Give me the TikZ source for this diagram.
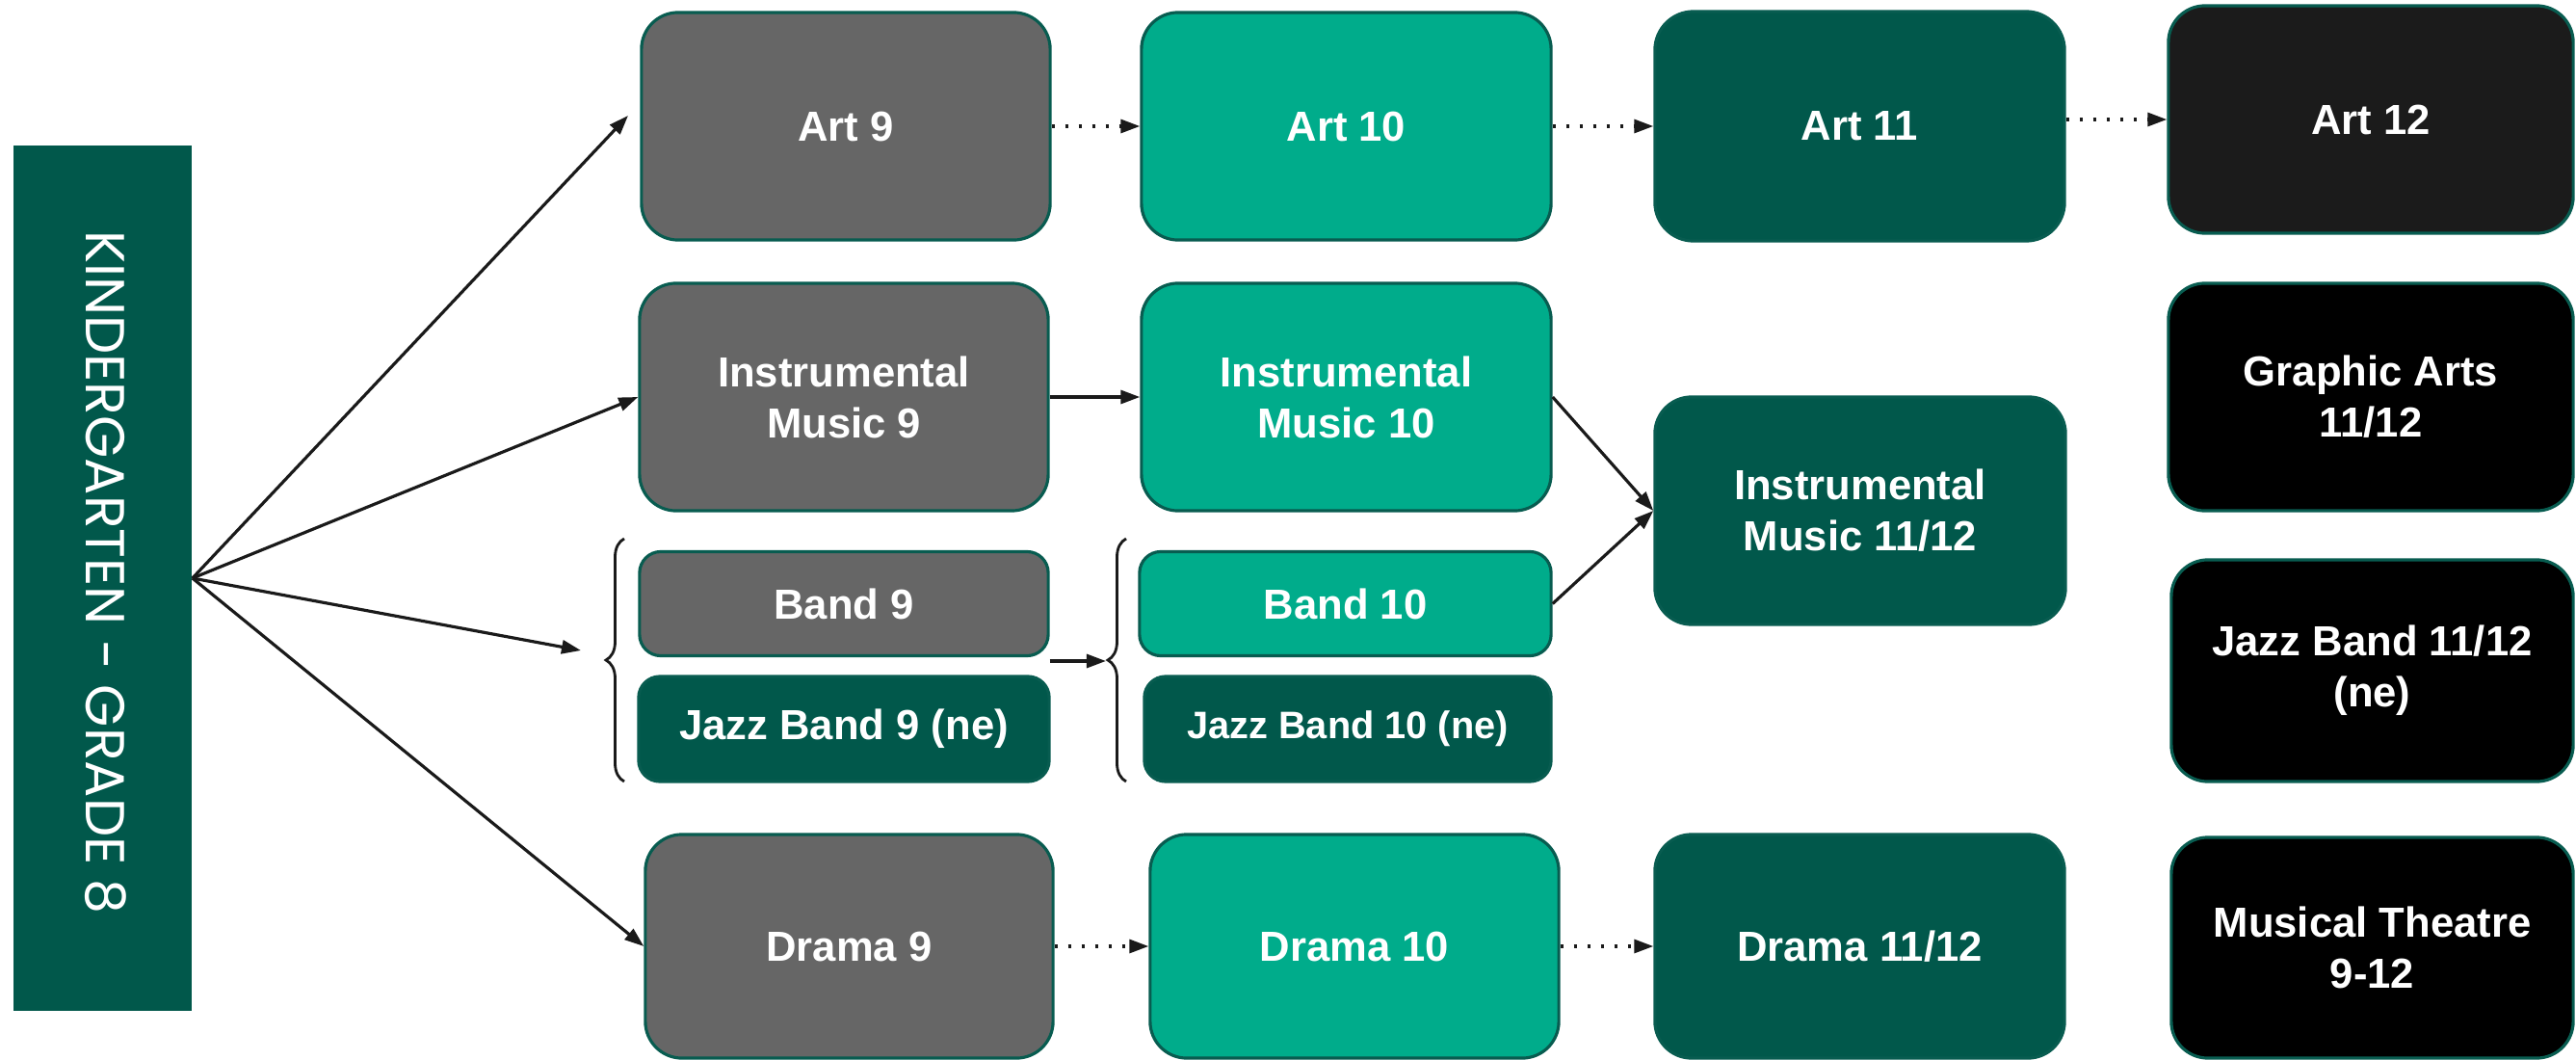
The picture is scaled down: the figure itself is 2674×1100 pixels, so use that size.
\documentclass[tikz,border=0pt]{standalone}
\usepackage{fontspec}
\setmainfont{Liberation Sans}
\newfontfamily\barfont{Poppins}
\usetikzlibrary{arrows.meta,decorations.pathreplacing}
\definecolor{gnine}{RGB}{102,102,102}
\definecolor{gten}{RGB}{0,172,139}
\definecolor{gdark}{RGB}{1,88,75}
\definecolor{gbord}{RGB}{8,92,80}
\definecolor{gartw}{RGB}{27,27,27}
\definecolor{garrow}{RGB}{26,26,26}
\begin{document}
\begin{tikzpicture}[x=0.01cm,y=-0.01cm,
  box/.style={draw=gbord,line width=0.9pt,align=center,text=white,inner sep=0pt,
    font=\fontsize{12.4}{15.1}\selectfont\bfseries,
    minimum width=4.24cm,minimum height=2.36cm,rounded corners=0.38cm},
  smallbox/.style={minimum height=1.08cm,rounded corners=0.22cm},
  cnine/.style={box,fill=gnine},
  cten/.style={box,fill=gten},
  celeven/.style={box,fill=gdark},
  ctwelve/.style={box,fill=black},
  arr/.style={draw=garrow,line width=0.9pt,-{Triangle[length=0.2cm,width=0.14cm]}},
  dotarr/.style={arr,dash pattern=on 0.03cm off 0.11cm},
  bracestyle/.style={draw=garrow,line width=0.8pt,decorate,decoration={brace,amplitude=0.19cm}}
]
\useasboundingbox (0,0) rectangle (2674,1100);
\fill[white] (0,0) rectangle (2674,1100);

% left bar
\node[fill=gdark,minimum width=1.85cm,minimum height=8.98cm,inner sep=0pt] (kg) at (106.5,600) {};
\node[rotate=-90,text=white,inner sep=0pt] (kgt) at (110,594) {\resizebox{7.09cm}{!}{\barfont KINDERGARTEN - GRADE 8}};

% boxes
\node[cnine] (a9) at (878,131) {Art 9};
\node[cten,minimum width=4.25cm] (a10) at (1397.5,131) {Art 10};
\node[celeven,minimum width=4.25cm,minimum height=2.38cm,rounded corners=0.4cm] (a11) at (1930.5,131) {Art 11};
\node[ctwelve,fill=gartw,minimum width=4.2cm] (a12) at (2461,124) {Art 12};

\node[cnine] (im9) at (876,412) {Instrumental\\Music 9};
\node[cten,minimum width=4.25cm] (im10) at (1397.5,412) {Instrumental\\Music 10};
\node[celeven,minimum width=4.26cm] (im1112) at (1931,530) {Instrumental\\Music 11/12};
\node[ctwelve,minimum width=4.2cm] (ga) at (2461,412) {Graphic Arts\\11/12};

\node[cnine,smallbox] (b9) at (876,626.5) {Band 9};
\node[celeven,smallbox,minimum width=4.26cm,minimum height=1.09cm] (jb9) at (876,756.5) {Jazz Band 9 (ne)};
\node[cten,smallbox,minimum width=4.27cm] (b10) at (1396.5,626.5) {Band 10};
\node[celeven,smallbox,minimum width=4.22cm,minimum height=1.09cm,font=\fontsize{11.3}{13.6}\selectfont\bfseries] (jb10) at (1399,756.5) {Jazz Band 10 (ne)};
\node[ctwelve,minimum width=4.17cm,minimum height=2.3cm] (jb1112) at (2462.5,696) {Jazz Band 11/12\\(ne)};

\node[cnine,minimum width=4.23cm,minimum height=2.32cm] (d9) at (881.5,982) {Drama 9};
\node[cten,minimum height=2.32cm] (d10) at (1406,982) {Drama 10};
\node[celeven,minimum width=4.25cm,minimum height=2.32cm] (d1112) at (1930.5,982) {Drama 11/12};
\node[ctwelve,minimum width=4.17cm,minimum height=2.29cm] (mt) at (2462.5,983.5) {Musical Theatre\\9-12};

% braces
\draw[bracestyle] (648,811) -- (648,559);
\draw[bracestyle] (1169,811) -- (1169,559);
\coordinate (br1) at (629,685);
\coordinate (br2) at (1148,686);
\coordinate (a9in) at (652,120);
\coordinate (b9in) at (603,675);

% fan arrows
\draw[arr] (kg.east) -- (a9in);
\draw[arr] (kg.east) -- (im9.west);
\draw[arr] (kg.east) -- (b9in);
\draw[arr] (kg.east) -- (d9.west);

% progression arrows
\draw[dotarr] (a9) -- (a10);
\draw[dotarr] (a10) -- (a11);
\draw[dotarr] (a11.east |- a12.west) -- (a12.west);
\draw[arr] (im9) -- (im10);
\draw[arr] (im10.east) -- (im1112.west);
\draw[arr] (b10.east) -- (im1112.west);
\draw[arr] (b9.south east |- br2) -- (br2);
\draw[dotarr] (d9) -- (d10);
\draw[dotarr] (d10) -- (d1112);
\end{tikzpicture}
\end{document}
